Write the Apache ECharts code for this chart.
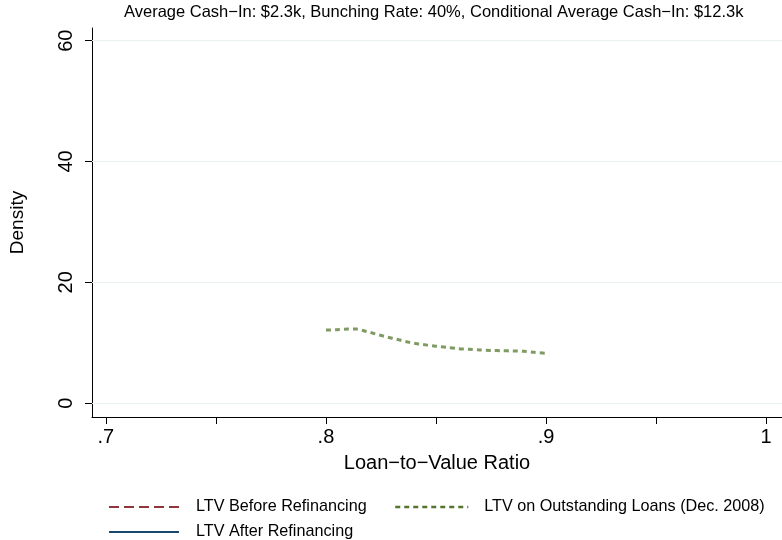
<!DOCTYPE html>
<html>
<head>
<meta charset="utf-8">
<script src="https://cdn.jsdelivr.net/npm/echarts@6/dist/echarts.min.js"></script>
<style>html,body{margin:0;padding:0;background:#fff;}#c{width:782px;height:540px;}</style>
</head>
<body>
<div id="c"></div>
<script>
const titleText = "Average Cash\u2212In: $2.3k, Bunching Rate: 40%, Conditional Average Cash\u2212In: $12.3k";
const xTicks = [0.7, 0.75, 0.8, 0.85, 0.9, 0.95, 1.0];
const xLabels = [0.7, 0.8, 0.9, 1.0];
const yTicks = [0, 20, 40, 60];
const seriesNames = ["LTV Before Refinancing", "LTV on Outstanding Loans (Dec. 2008)", "LTV After Refinancing"];
const beforeLTV = [];
const afterLTV = [];
const outstandingX = [0.800, 0.805, 0.810, 0.814, 0.818, 0.822, 0.826, 0.830, 0.834, 0.838, 0.842, 0.846, 0.850, 0.855, 0.860, 0.865, 0.870, 0.875, 0.880, 0.885, 0.890, 0.895, 0.900];
const outstandingY = [12.1, 12.15, 12.25, 12.25, 11.9, 11.5, 11.1, 10.75, 10.4, 10.05, 9.8, 9.6, 9.43, 9.22, 9.02, 8.9, 8.8, 8.72, 8.67, 8.63, 8.58, 8.4, 8.25];

const FONT = "Liberation Sans";
const chart = echarts.init(document.getElementById('c'), null, {renderer: 'canvas'});
const fmtX = v => { const s = (Math.round(v * 100) / 100).toString(); return s.startsWith('0.') ? s.slice(1) : s; };
const legendText = {fontSize: 16.2, fontFamily: FONT, color: '#000', padding: [0, 0, 0, 12]};

chart.setOption({
  animation: false,
  backgroundColor: '#ffffff',
  textStyle: {fontFamily: FONT, color: '#000'},
  title: {
    text: titleText, left: 124, top: 4, padding: 0,
    textStyle: {fontFamily: FONT, fontSize: 16.5, fontWeight: 'normal', color: '#000'}
  },
  grid: {left: 92, right: 0, top: 28, bottom: 123, containLabel: false},
  xAxis: {
    type: 'value', min: 0.6937, max: 1.0072,
    name: 'Loan\u2212to\u2212Value Ratio', nameLocation: 'middle', nameGap: 36,
    nameTextStyle: {fontSize: 20, color: '#000', fontFamily: FONT},
    axisLine: {show: true, onZero: false, lineStyle: {color: '#000', width: 1}},
    axisTick: {show: true, customValues: xTicks, length: 7, lineStyle: {color: '#000'}},
    axisLabel: {customValues: xLabels, formatter: fmtX, fontSize: 20, color: '#000', margin: 10, fontFamily: FONT},
    splitLine: {show: false}
  },
  yAxis: {
    type: 'value', min: -2.3, max: 62.1,
    name: 'Density', nameLocation: 'middle', nameGap: 65,
    nameTextStyle: {fontSize: 19, color: '#000', fontFamily: FONT},
    axisLine: {show: true, onZero: false, lineStyle: {color: '#000', width: 1}},
    axisTick: {show: true, customValues: yTicks, length: 7, lineStyle: {color: '#000'}},
    axisLabel: {customValues: yTicks, rotate: 90, fontSize: 20, color: '#000', margin: 16, fontFamily: FONT},
    splitLine: {show: false}
  },
  legend: [
    {data: [{name: seriesNames[0], itemStyle: {opacity: 0}, lineStyle: {color: '#90353b', type: [10, 5], width: 2}}],
     left: 108, top: 499, padding: 0, itemWidth: 70, itemHeight: 18, itemGap: 0, textStyle: legendText},
    {data: [{name: seriesNames[1], itemStyle: {opacity: 0}, lineStyle: {color: '#55752f', type: [5, 4], width: 2.5}}],
     left: 394, top: 499, padding: 0, itemWidth: 73, itemHeight: 18, itemGap: 0,
     textStyle: Object.assign({}, legendText, {padding: [0, 0, 0, 11]})},
    {data: [{name: seriesNames[2], itemStyle: {opacity: 0}, lineStyle: {color: '#1a476f', type: 'solid', width: 2}}],
     left: 108, top: 524, padding: 0, itemWidth: 70, itemHeight: 18, itemGap: 0, textStyle: legendText}
  ],
  series: [
    {
      name: seriesNames[0], type: 'line', data: beforeLTV, showSymbol: false, symbol: 'none',
      lineStyle: {color: '#90353b', type: 'dashed', width: 2}, itemStyle: {color: '#90353b'},
      markLine: {
        silent: true, symbol: ['none', 'none'], label: {show: false},
        lineStyle: {color: '#e8f0f2', type: 'solid', width: 1.2},
        data: yTicks.map(v => ({yAxis: v}))
      },
      z: 1
    },
    {
      name: seriesNames[1], type: 'line', showSymbol: false, symbol: 'none', smooth: 0.3,
      data: outstandingX.map((x, i) => [x, outstandingY[i]]),
      lineStyle: {color: '#7f9a62', type: [5, 4], width: 3}, itemStyle: {color: '#55752f'},
      z: 3
    },
    {
      name: seriesNames[2], type: 'line', data: afterLTV, showSymbol: false, symbol: 'none',
      lineStyle: {color: '#1a476f', width: 2}, itemStyle: {color: '#1a476f'}
    }
  ]
});
</script>
</body>
</html>
